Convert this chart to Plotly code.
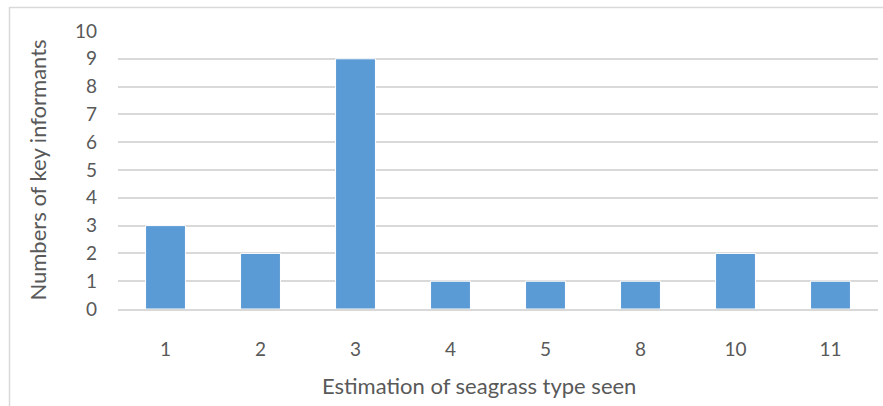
import plotly.graph_objects as go

categories = ["1", "2", "3", "4", "5", "8", "10", "11"]
values = [3, 2, 9, 1, 1, 1, 2, 1]
y_ticks = list(range(0, 11))

W, H = 883, 406
ml, mr, mt, mb = 118, 5, 31, 97
pw = W - ml - mr
ph = H - mt - mb

fig = go.Figure(go.Bar(
    x=categories, y=values,
    marker=dict(color="#5b9bd5", line=dict(color="#ffffff", width=1)),
    width=0.42,
))

font_fam = "Lato, 'Open Sans', sans-serif"
fig.update_layout(
    width=W, height=H,
    margin=dict(l=ml, r=mr, t=mt, b=mb, autoexpand=False),
    paper_bgcolor="white", plot_bgcolor="white",
    font=dict(family=font_fam, color="#595959", size=19),
    showlegend=False,
    xaxis=dict(
        type="category", categoryorder="array", categoryarray=categories,
        showline=True, linecolor="#d9d9d9", linewidth=1.5,
        showgrid=False, ticks="", ticklabelstandoff=22,
        tickfont=dict(size=19, color="#595959"),
        automargin=False,
    ),
    yaxis=dict(
        range=[0, 10], tickvals=y_ticks, showgrid=True, gridcolor="#d9d9d9", gridwidth=1.5,
        zeroline=False, showline=False, ticks="", ticklabelstandoff=20,
        tickfont=dict(size=19, color="#595959"),
        title=dict(text="Numbers of key informants", font=dict(size=22, color="#595959"), standoff=22),
        automargin=False,
    ),
    annotations=[dict(
        text="Estimation of seagrass type seen", xref="paper", yref="paper",
        x=(479 - ml) / pw, y=(ml * 0 + (mt + ph) - 385) / ph,
        xanchor="center", yanchor="middle", showarrow=False,
        font=dict(size=22, color="#595959"),
    )],
    shapes=[dict(
        type="rect", xref="paper", yref="paper",
        x0=(9.5 - ml) / pw, x1=(W + 20 - ml) / pw,
        y0=-(H + 20 - mt - ph) / ph, y1=1 + (mt - 7.5) / ph,
        line=dict(color="#d9d9d9", width=1.5), layer="below",
    )],
)

fig.write_html("out.html")
